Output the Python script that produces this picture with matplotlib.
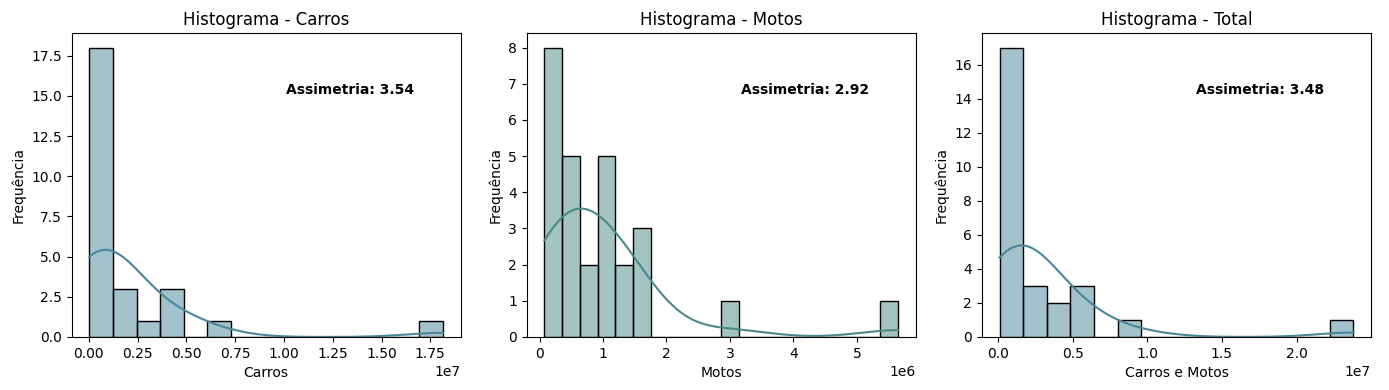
import numpy as np
import pandas as pd
import matplotlib
matplotlib.use('Agg')
import matplotlib.pyplot as plt
import seaborn as sns

# Frota por UF (milhões de veículos)
ufs = ['SP', 'MG', 'PR', 'RS', 'RJ', 'SC', 'BA', 'GO', 'DF', 'PE', 'CE', 'ES', 'MT', 'MS',
       'PA', 'RN', 'PB', 'MA', 'AL', 'PI', 'SE', 'AM', 'TO', 'RO', 'AC', 'AP', 'RR']
carros_mi = [18.15, 6.2, 4.5, 4.4, 4.3, 3.2, 2.4, 1.9, 1.4, 1.2, 1.1, 1.0, 0.85, 0.8,
             0.65, 0.55, 0.55, 0.5, 0.4, 0.45, 0.35, 0.5, 0.3, 0.35, 0.1, 0.03, 0.07]
motos_mi = [5.65, 3.0, 1.55, 1.1, 1.05, 1.15, 1.6, 1.3, 0.25, 1.35, 1.65, 0.6, 0.8, 0.45,
            1.0, 0.55, 0.5, 0.95, 0.33, 0.75, 0.3, 0.3, 0.3, 0.4, 0.15, 0.078, 0.12]

assimetria = [3.54, 2.92, 3.48]
titulos = ['Histograma - Carros', 'Histograma - Motos', 'Histograma - Total']
rotulos_x = ['Carros', 'Motos', 'Carros e Motos']
n_bins = [15, 20, 15]
cores = ['#4b879b', '#4b8989', '#4b879b']

df = pd.DataFrame({'UF': ufs,
                   'Carros': np.array(carros_mi) * 1e6,
                   'Motos': np.array(motos_mi) * 1e6})
df['Carros e Motos'] = df['Carros'] + df['Motos']

fig, axes = plt.subplots(1, 3, figsize=(13.89, 3.9))

for ax, col, titulo, bins, cor, sk in zip(axes, rotulos_x, titulos, n_bins, cores, assimetria):
    sns.histplot(df[col], bins=bins, kde=True, color=cor, alpha=0.5,
                 edgecolor='black', linewidth=1, ax=ax)
    ax.set_title(titulo)
    ax.set_xlabel(col)
    ax.set_ylabel('Frequência')
    ax.text(0.55, 0.8, f'Assimetria: {sk:.2f}', transform=ax.transAxes,
            fontsize=10, fontweight='bold')

plt.subplots_adjust(left=0.0516, right=0.987, top=0.915, bottom=0.136, wspace=0.17)
plt.savefig('out.png', dpi=100)
plt.close()
